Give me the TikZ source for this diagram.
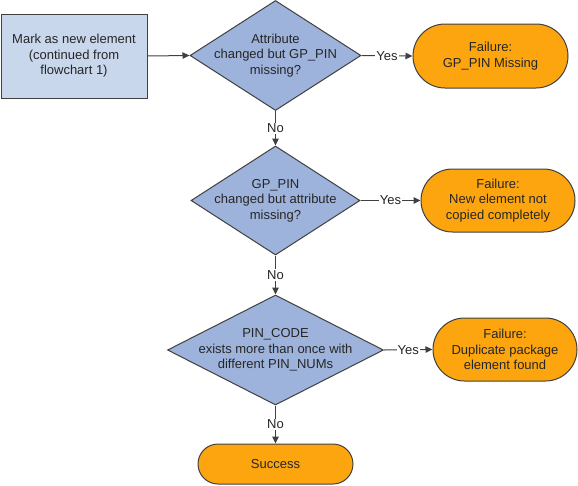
\documentclass[tikz,border=0pt]{standalone}
\usepackage{fontspec}
\setmainfont{Liberation Sans}
\usetikzlibrary{shapes.geometric,arrows.meta}
\definecolor{boxblue}{HTML}{C9D7EC}
\definecolor{diablue}{HTML}{9DB3DB}
\definecolor{termorange}{HTML}{FCA50E}
\definecolor{linegray}{HTML}{404040}
\definecolor{textgray}{HTML}{262626}
\begin{document}
\begin{tikzpicture}[x=1pt,y=-1pt,
  font=\fontsize{13}{15.5}\selectfont, text=textgray,
  procbox/.style={draw=linegray, line width=1pt, fill=boxblue, rectangle, inner sep=0pt},
  decide/.style={draw=linegray, line width=1pt, fill=diablue, diamond, inner sep=0pt, aspect=1},
  dtext/.style={align=center, inner sep=0pt},
  term/.style={draw=linegray, line width=1pt, fill=termorange, rectangle, align=center, inner sep=0pt},
  conn/.style={draw=linegray, line width=1pt, -{Triangle[length=7pt,width=6.5pt]}},
  lbl/.style={fill=white, inner sep=1pt, text=textgray}
]
\useasboundingbox (0,0) rectangle (578,485);
% start box
\node[procbox, minimum width=146pt, minimum height=84pt, align=center] (start) at (74,56)
  {Mark as new element\\(continued from\\flowchart 1)};
% diamonds
\node[decide, minimum width=171pt, minimum height=110pt] (d1) at (275.5,55.5) {};
\node[dtext] (d1t) at (d1.center) {Attribute\\changed but GP\_PIN\\missing?};
\node[decide, minimum width=169pt, minimum height=109pt] (d2) at (275.5,200.5) {};
\node[dtext] (d2t) at (d2.center) {GP\_PIN\\changed but attribute\\missing?};
\node[decide, minimum width=216pt, minimum height=110pt] (d3) at (275.5,350) {};
\node[dtext] (d3t) at (d3.center) {PIN\_CODE\\exists more than once with\\different PIN\_NUMs};
% terminals
\node[term, minimum width=155pt, minimum height=64pt, rounded corners=32pt] (f1) at (490.5,56)
  {Failure:\\GP\_PIN Missing};
\node[term, minimum width=154pt, minimum height=63pt, rounded corners=31.5pt] (f2) at (498,200.5)
  {Failure:\\New element not\\copied completely};
\node[term, minimum width=144pt, minimum height=63pt, rounded corners=31.5pt] (f3) at (505,349.5)
  {Failure:\\Duplicate package\\element found};
\node[term, minimum width=155pt, minimum height=40pt, rounded corners=20pt] (succ) at (275.5,464)
  {Success};
% connectors
\draw[conn] (start.east) -- (d1.west);
\draw[conn] (d1.east) -- node[lbl] {Yes} (f1.west);
\draw[conn] (d1.south) -- node[lbl] {No} (d2.north);
\draw[conn] (d2.east) -- node[lbl] {Yes} (f2.west);
\draw[conn] (d2.south) -- node[lbl] {No} (d3.north);
\draw[conn] (d3.east) -- node[lbl] {Yes} (f3.west);
\draw[conn] (d3.south) -- node[lbl] {No} (succ.north);
\end{tikzpicture}
\end{document}
